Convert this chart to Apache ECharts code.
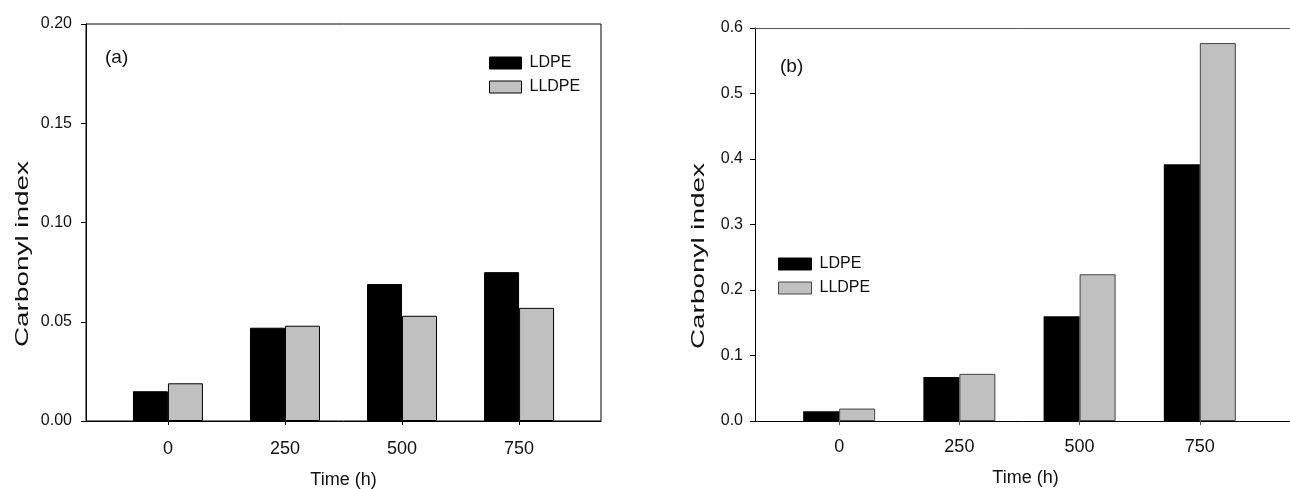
<!DOCTYPE html>
<html>
<head>
<meta charset="utf-8">
<script src="https://cdn.jsdelivr.net/npm/echarts@6/dist/echarts.min.js"></script>
<style>
html,body{margin:0;padding:0;background:#fff;}
#chart{width:1290px;height:489px;}
</style>
</head>
<body>
<div id="chart"></div>
<script>
// ---- data ----
const times = [0, 250, 500, 750];
const timeTickLabels = ['0', '250', '500', '750'];
const ldpeA = [0.015, 0.047, 0.069, 0.075];
const lldpeA = [0.019, 0.048, 0.053, 0.057];
const ldpeB = [0.015, 0.067, 0.160, 0.392];
const lldpeB = [0.019, 0.072, 0.224, 0.577];
const seriesNames = ['LDPE', 'LLDPE'];
const panelLabels = ['(a)', '(b)'];
const yTitle = 'Carbonyl index';
const xTitle = 'Time (h)';

const FONT = "'Liberation Sans', Arial, sans-serif";
const TXT = '#111';

function pairs(vals){ return times.map((t,i)=>[t, vals[i]]); }

const chart = echarts.init(document.getElementById('chart'), null, {renderer:'canvas'});

function xAxisCfg(gridIndex, min, max, tickColor, labelMargin, nameGap){
  return {
    type:'value', gridIndex, min, max,
    splitLine:{show:false},
    axisLine:{show:true, onZero:false, lineStyle:{color:'#000', width:1}},
    axisTick:{show:true, inside:false, length:4, customValues: times, lineStyle:{color:tickColor}},
    axisLabel:{show:true, margin:labelMargin, fontSize:18, color:TXT, fontFamily:FONT,
      customValues: times, formatter:(v)=>timeTickLabels[times.indexOf(v)] },
    name:xTitle, nameLocation:'middle', nameGap,
    nameTextStyle:{fontSize:18, color:TXT, fontFamily:FONT}
  };
}
function yAxisCfg(gridIndex, max, interval, digits, margin){
  return {
    type:'value', gridIndex, min:0, max, interval,
    splitLine:{show:false},
    axisLine:{show:true, onZero:false, lineStyle:{color:'#000', width:1}},
    axisTick:{show:true, inside:false, length:5, lineStyle:{color:'#000'}},
    axisLabel:{margin, fontSize:16, color:TXT, fontFamily:FONT, formatter:(v)=>v.toFixed(digits)}
  };
}
function yTitleText(x, y){
  return {type:'text', x, y, rotation:Math.PI/2, scaleX:1.55, scaleY:1.05,
    style:{text:yTitle, font:"18px " + FONT, fill:TXT, align:'center', verticalAlign:'middle'}};
}

const option = {
  animation:false,
  backgroundColor:'#fff',
  textStyle:{fontFamily:FONT},
  title:[
    {text:panelLabels[0], left:100, top:43, textStyle:{fontSize:19, fontWeight:'normal', color:TXT, fontFamily:FONT}},
    {text:panelLabels[1], left:775, top:52, textStyle:{fontSize:19, fontWeight:'normal', color:TXT, fontFamily:FONT}}
  ],
  graphic:[ yTitleText(23, 254), yTitleText(699, 256) ],
  legend:[
    {orient:'vertical', left:484, top:50, itemWidth:32, itemHeight:12, itemGap:8, icon:'rect',
     textStyle:{fontSize:16, color:TXT, fontFamily:FONT, padding:[0,0,0,3]},
     data:[{name:seriesNames[0], itemStyle:{color:'#000', borderColor:'#000', borderWidth:1}},
           {name:seriesNames[1], itemStyle:{color:'#c0c0c0', borderColor:'#000', borderWidth:1}}]},
    {orient:'vertical', left:773, top:251, itemWidth:33, itemHeight:12, itemGap:8, icon:'rect',
     textStyle:{fontSize:16, color:TXT, fontFamily:FONT, padding:[0,0,0,3]},
     data:[{name:seriesNames[0], itemStyle:{color:'#000', borderColor:'#000', borderWidth:1}},
           {name:seriesNames[1], itemStyle:{color:'#c0c0c0', borderColor:'#444', borderWidth:1}}]}
  ],
  grid:[
    {left:86, right:689, top:24, bottom:68, show:true, borderColor:'#000', borderWidth:1,
     backgroundColor:'transparent', outerBoundsMode:'none', containLabel:false},
    {left:755, right:-6, top:28, bottom:68, show:false, outerBoundsMode:'none', containLabel:false}
  ],
  xAxis:[
    xAxisCfg(0, -175, 925, '#000', 19, 50),
    xAxisCfg(1, -175, 950, '#555', 17, 48),
    {type:'value', gridIndex:1, position:'top', min:-175, max:950,
     axisLine:{show:true, onZero:false, lineStyle:{color:'#555', width:1}},
     axisTick:{show:false}, axisLabel:{show:false}, splitLine:{show:false}}
  ],
  yAxis:[ yAxisCfg(0, 0.2, 0.05, 2, 14), yAxisCfg(1, 0.6, 0.1, 1, 12) ],
  series:[
    {name:seriesNames[0], type:'bar', xAxisIndex:0, yAxisIndex:0, data:pairs(ldpeA), barWidth:35, barGap:'0%',
     itemStyle:{color:'#000', borderColor:'#000', borderWidth:1}},
    {name:seriesNames[1], type:'bar', xAxisIndex:0, yAxisIndex:0, data:pairs(lldpeA), barWidth:35, barGap:'0%',
     itemStyle:{color:'#c0c0c0', borderColor:'#000', borderWidth:1}},
    {name:seriesNames[0], type:'bar', xAxisIndex:1, yAxisIndex:1, data:pairs(ldpeB), barWidth:36, barGap:'0%',
     itemStyle:{color:'#000', borderColor:'#000', borderWidth:0}},
    {name:seriesNames[1], type:'bar', xAxisIndex:1, yAxisIndex:1, data:pairs(lldpeB), barWidth:36, barGap:'0%',
     itemStyle:{color:'#c0c0c0', borderColor:'#444', borderWidth:1}}
  ]
};
chart.setOption(option);
</script>
</body>
</html>
